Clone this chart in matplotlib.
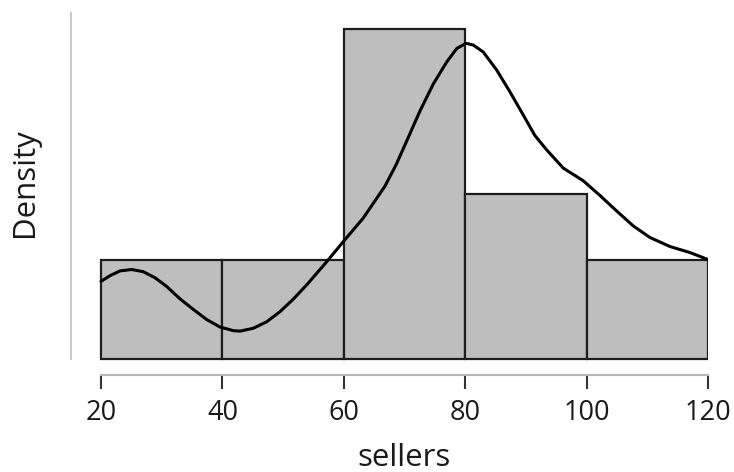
import numpy as np
import matplotlib
matplotlib.use("Agg")
import matplotlib.pyplot as plt

plt.rcParams['font.family'] = ['Open Sans', 'DejaVu Sans']

# --- data ---
bin_edges = [20, 40, 60, 80, 100, 120]
counts = np.array([3, 3, 10, 5, 3])
tick_values = [20, 40, 60, 80, 100, 120]
tick_labels = ["20", "40", "60", "80", "100", "120"]

# density curve
curve_x = [20.0, 21.48, 23.13, 25.06, 26.97, 28.90, 30.82, 33.01, 35.21, 37.41,
           39.60, 41.80, 42.90, 45.09, 47.30, 49.49, 51.68, 53.89, 57.18, 59.92,
           63.21, 66.79, 68.60, 70.36, 72.55, 74.74, 76.95, 78.60, 80.13, 81.33,
           82.98, 85.19, 87.38, 89.57, 91.50, 93.43, 96.16, 99.46, 102.21, 104.96,
           107.69, 110.44, 113.74, 117.03, 120.0]
curve_y = [0.00490, 0.00526, 0.00556, 0.00565, 0.00551, 0.00513, 0.00458, 0.00380,
           0.00313, 0.00249, 0.00202, 0.00179, 0.00176, 0.00194, 0.00235, 0.00299,
           0.00378, 0.00468, 0.00614, 0.00741, 0.00890, 0.01092, 0.01225, 0.01376,
           0.01566, 0.01736, 0.01875, 0.01960, 0.01993, 0.01982, 0.01938, 0.01824,
           0.01686, 0.01540, 0.01410, 0.01320, 0.01205, 0.01125, 0.01032, 0.00934,
           0.00840, 0.00767, 0.00710, 0.00672, 0.00628]

W, H = 734, 472
fig = plt.figure(figsize=(W / 100, H / 100), dpi=100)
ax = fig.add_axes([71 / W, (H - 375) / H, (708 - 71) / W, (375 - 13) / H])

edges = np.array(bin_edges, dtype=float)
widths = np.diff(edges)
density = counts / counts.sum() / widths
ax.bar(edges[:-1], density, width=widths, align='edge', color='#bebebe',
       edgecolor='#1e1e1e', linewidth=1.6, zorder=2)
ax.plot(curve_x, curve_y, color='black', linewidth=2.2, zorder=3,
        solid_joinstyle='round', solid_capstyle='round')

px_per_unit = (708 - 101) / 100.0
ax.set_xlim(20 - (101 - 71) / px_per_unit, 120)
px_per_density = 15840.0
ymin = -16 / px_per_density
ymax = ymin + (375 - 13) / px_per_density
ax.set_ylim(ymin, ymax)

for s in ['top', 'right']:
    ax.spines[s].set_visible(False)
ax.spines['left'].set_color('#c4c4c4')
ax.spines['left'].set_linewidth(1.3)
ax.spines['left'].set_bounds(0, ymax)
ax.spines['bottom'].set_color('#b8b8b8')
ax.spines['bottom'].set_linewidth(1.5)
ax.spines['bottom'].set_bounds(20, 120)

ax.set_yticks([])
ax.set_xticks(tick_values)
ax.set_xticklabels(tick_labels)
ax.tick_params(axis='x', direction='out', length=10, width=1.5, color='#333333',
               labelsize=19.5, labelcolor='#1a1a1a', pad=7)

ax.set_xlabel('sellers', fontsize=22.5, color='#1a1a1a')
ax.xaxis.set_label_coords(404.5 / W, 1 - 466 / H, transform=fig.transFigure)
ax.xaxis.label.set_va('baseline')
ax.set_ylabel('Density', fontsize=22.5, color='#1a1a1a')
ax.yaxis.set_label_coords(33 / W, 1 - 183 / H, transform=fig.transFigure)
ax.yaxis.label.set_va('baseline')

fig.savefig('out.png', dpi=100)
